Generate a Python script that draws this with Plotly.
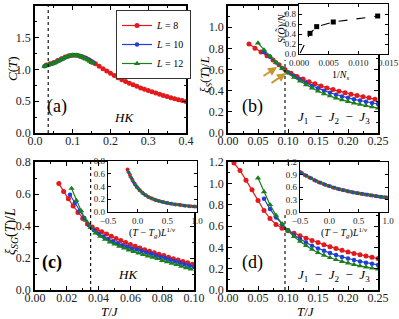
import plotly.graph_objects as go

W, H = 399, 319
SERIF = "Liberation Serif"
RED, BLUE, GREEN = "#e31a1c", "#1f3fd8", "#1b7f1b"

# ---------------- Data ----------------
# (a) specific heat, HK model
a_T8 = [0.03, 0.04, 0.05, 0.06, 0.07, 0.08, 0.09, 0.10, 0.11, 0.12, 0.13, 0.14, 0.15,
        0.16, 0.17, 0.18, 0.19, 0.20, 0.21, 0.22, 0.23, 0.24, 0.25, 0.26, 0.27, 0.28,
        0.29, 0.30, 0.31, 0.32, 0.33, 0.34, 0.35, 0.36, 0.37, 0.38, 0.39, 0.40]
a_C8 = [1.07, 1.09, 1.11, 1.14, 1.17, 1.195, 1.215, 1.225, 1.225, 1.21, 1.19, 1.16, 1.125,
        1.09, 1.05, 1.01, 0.975, 0.94, 0.905, 0.87, 0.84, 0.81, 0.785, 0.76, 0.735, 0.71,
        0.69, 0.67, 0.65, 0.63, 0.61, 0.592, 0.574, 0.557, 0.541, 0.525, 0.51, 0.496]
a_T10 = [0.025, 0.035, 0.045, 0.055, 0.065, 0.075, 0.085, 0.095, 0.105, 0.115, 0.125,
         0.135, 0.145, 0.155]
a_C10 = [1.05, 1.07, 1.09, 1.115, 1.145, 1.175, 1.20, 1.22, 1.225, 1.22, 1.205, 1.18, 1.15, 1.11]
a_T12 = [0.025, 0.030, 0.035, 0.040, 0.045, 0.050, 0.055, 0.060, 0.065, 0.070, 0.075,
         0.080, 0.085, 0.090, 0.095, 0.100, 0.105, 0.110, 0.115, 0.120, 0.125, 0.130,
         0.135, 0.140, 0.145, 0.150, 0.155]
a_C12 = [1.05, 1.06, 1.07, 1.08, 1.09, 1.10, 1.115, 1.13, 1.145, 1.16, 1.175, 1.19, 1.20,
         1.21, 1.22, 1.225, 1.225, 1.22, 1.215, 1.205, 1.19, 1.18, 1.165, 1.15, 1.13, 1.11, 1.095]

# (b) spin correlation length, J1-J2-J3
b_T8 = [0.035, 0.045, 0.055, 0.065, 0.075, 0.085, 0.095, 0.105, 0.115, 0.125, 0.135,
        0.145, 0.155, 0.165, 0.175, 0.185, 0.195, 0.205, 0.215, 0.225, 0.235, 0.245]
b_X8 = [0.84, 0.80, 0.765, 0.73, 0.69, 0.645, 0.60, 0.565, 0.535, 0.51, 0.485, 0.465,
        0.445, 0.425, 0.41, 0.395, 0.38, 0.367, 0.355, 0.343, 0.332, 0.32]
b_T10 = [0.06, 0.07, 0.08, 0.09, 0.10, 0.11, 0.12, 0.13, 0.14, 0.15, 0.16, 0.17, 0.18,
         0.19, 0.20, 0.21, 0.22, 0.23, 0.24, 0.25]
b_X10 = [0.765, 0.72, 0.665, 0.615, 0.575, 0.54, 0.505, 0.475, 0.447, 0.422, 0.40, 0.38,
         0.362, 0.346, 0.332, 0.318, 0.306, 0.295, 0.284, 0.274]
b_T12 = [0.05, 0.06, 0.07, 0.08, 0.09, 0.10, 0.11, 0.12, 0.13, 0.14, 0.15, 0.16, 0.17,
         0.18, 0.19, 0.20, 0.21, 0.22, 0.23, 0.24, 0.25]
b_X12 = [0.85, 0.785, 0.725, 0.665, 0.61, 0.565, 0.525, 0.49, 0.455, 0.425, 0.395, 0.37,
         0.35, 0.33, 0.312, 0.297, 0.283, 0.27, 0.258, 0.246, 0.235]
# (b) inset: structure factor vs 1/Ns
bi_invN = [0.00185, 0.00298, 0.00578, 0.01326]
bi_S = [0.413, 0.547, 0.64, 0.76]
bi_fit_x = [0.0002, 0.00185, 0.00298, 0.00578, 0.01326]
bi_fit_y = [0.02, 0.413, 0.547, 0.64, 0.76]

# (c) spin-glass correlation length, HK
c_T8 = [0.015, 0.018, 0.021, 0.024, 0.027, 0.030, 0.033, 0.036, 0.039, 0.042, 0.045,
        0.048, 0.051, 0.054, 0.057, 0.060, 0.063, 0.066, 0.069, 0.072, 0.075, 0.078,
        0.081, 0.084, 0.087, 0.090, 0.093, 0.096, 0.099]
c_X8 = [0.665, 0.615, 0.57, 0.525, 0.485, 0.447, 0.412, 0.393, 0.378, 0.364, 0.35, 0.336,
        0.322, 0.309, 0.297, 0.285, 0.273, 0.262, 0.252, 0.242, 0.233, 0.224, 0.215,
        0.205, 0.196, 0.187, 0.178, 0.17, 0.161]
c_T10 = [0.022, 0.025, 0.028, 0.031, 0.034, 0.037, 0.040, 0.043, 0.046, 0.049, 0.052,
         0.055, 0.058, 0.061, 0.064, 0.067, 0.070, 0.073, 0.076, 0.079, 0.082, 0.085,
         0.088, 0.091, 0.094, 0.097, 0.100]
c_X10 = [0.595, 0.545, 0.495, 0.45, 0.405, 0.375, 0.352, 0.334, 0.318, 0.304, 0.292, 0.28,
         0.27, 0.26, 0.253, 0.244, 0.235, 0.226, 0.216, 0.207, 0.198, 0.189, 0.179, 0.17,
         0.161, 0.152, 0.143]
c_T12 = [0.023, 0.026, 0.029, 0.032, 0.035, 0.038, 0.041, 0.044, 0.047, 0.050, 0.053,
         0.056, 0.059, 0.062, 0.065, 0.068, 0.071, 0.074, 0.077, 0.080, 0.083, 0.086,
         0.089, 0.092, 0.095, 0.098]
c_X12 = [0.635, 0.56, 0.495, 0.435, 0.39, 0.355, 0.335, 0.316, 0.3, 0.286, 0.273, 0.261,
         0.25, 0.24, 0.23, 0.221, 0.212, 0.204, 0.196, 0.184, 0.176, 0.167, 0.158, 0.148,
         0.139, 0.13]
# (c) inset: scaling collapse
ci_x8 = [-0.17, -0.13, -0.09, -0.05, -0.01, 0.03, 0.08, 0.13, 0.18, 0.24, 0.30, 0.36,
         0.43, 0.50, 0.57, 0.64, 0.72, 0.80, 0.88, 0.96]
ci_y8 = [0.665, 0.58, 0.505, 0.445, 0.39, 0.345, 0.30, 0.265, 0.237, 0.212, 0.19, 0.172,
         0.155, 0.141, 0.128, 0.118, 0.108, 0.099, 0.092, 0.085]
ci_x10 = [-0.15, -0.11, -0.07, -0.03, 0.01, 0.05, 0.10, 0.15, 0.21, 0.27, 0.33, 0.40,
          0.47, 0.54, 0.61, 0.69, 0.77, 0.85, 0.93, 1.0]
ci_y10 = [0.62, 0.54, 0.472, 0.415, 0.368, 0.328, 0.288, 0.255, 0.225, 0.2, 0.18, 0.162,
          0.147, 0.134, 0.123, 0.112, 0.103, 0.095, 0.088, 0.082]
ci_x12 = [-0.16, -0.12, -0.08, -0.04, 0.0, 0.04, 0.09, 0.14, 0.20, 0.26, 0.32, 0.38,
          0.45, 0.52, 0.59, 0.67, 0.75, 0.83, 0.91, 0.99]
ci_y12 = [0.635, 0.552, 0.485, 0.428, 0.378, 0.335, 0.293, 0.26, 0.228, 0.203, 0.183,
          0.166, 0.15, 0.136, 0.124, 0.113, 0.104, 0.096, 0.089, 0.083]

# (d) spin-glass correlation length, J1-J2-J3
d_T8 = [0.01, 0.02, 0.03, 0.04, 0.05, 0.06, 0.07, 0.08, 0.09, 0.10, 0.11, 0.12, 0.13, 0.14,
        0.15, 0.16, 0.17, 0.18, 0.19, 0.20, 0.21, 0.22, 0.23, 0.24, 0.25]
d_X8 = [1.19, 1.12, 1.03, 0.94, 0.84, 0.745, 0.67, 0.615, 0.58, 0.555, 0.532, 0.508, 0.486,
        0.465, 0.445, 0.425, 0.405, 0.388, 0.372, 0.357, 0.343, 0.33, 0.318, 0.306, 0.295]
d_T10 = [0.06, 0.07, 0.08, 0.09, 0.10, 0.11, 0.12, 0.13, 0.14, 0.15, 0.16, 0.17, 0.18,
         0.19, 0.20, 0.21, 0.22, 0.23, 0.24, 0.25]
d_X10 = [0.855, 0.76, 0.68, 0.615, 0.56, 0.515, 0.478, 0.445, 0.415, 0.39, 0.367, 0.346,
         0.327, 0.31, 0.295, 0.281, 0.268, 0.256, 0.245, 0.235]
d_T12 = [0.05, 0.06, 0.07, 0.08, 0.09, 0.10, 0.11, 0.12, 0.13, 0.14, 0.15, 0.16, 0.17,
         0.18, 0.19, 0.20, 0.21, 0.22, 0.23, 0.24, 0.25]
d_X12 = [1.05, 0.92, 0.80, 0.70, 0.62, 0.555, 0.50, 0.455, 0.415, 0.38, 0.35, 0.325, 0.303,
         0.284, 0.267, 0.252, 0.238, 0.226, 0.215, 0.205, 0.196]
# (d) inset: scaling collapse
di_x8 = [-0.50, -0.42, -0.34, -0.26, -0.18, -0.10, -0.02, 0.06, 0.14, 0.22, 0.30, 0.38,
         0.46, 0.54, 0.62, 0.70, 0.78, 0.86, 0.94, 1.0]
di_y8 = [0.96, 0.89, 0.83, 0.77, 0.715, 0.67, 0.628, 0.59, 0.558, 0.53, 0.503, 0.478,
         0.457, 0.437, 0.418, 0.40, 0.383, 0.367, 0.352, 0.342]
di_x10 = [-0.47, -0.39, -0.31, -0.23, -0.15, -0.07, 0.01, 0.09, 0.17, 0.25, 0.33, 0.41,
          0.49, 0.57, 0.65, 0.73, 0.81, 0.89, 0.97]
di_y10 = [0.935, 0.87, 0.81, 0.75, 0.70, 0.655, 0.616, 0.58, 0.548, 0.52, 0.494, 0.47,
          0.45, 0.43, 0.412, 0.394, 0.378, 0.362, 0.347]
di_x12 = [-0.45, -0.37, -0.29, -0.21, -0.13, -0.05, 0.03, 0.11, 0.19, 0.27, 0.35, 0.43,
          0.51, 0.59, 0.67, 0.75, 0.83, 0.91, 0.99]
di_y12 = [0.92, 0.855, 0.795, 0.74, 0.69, 0.645, 0.606, 0.572, 0.54, 0.512, 0.487, 0.464,
          0.444, 0.425, 0.407, 0.39, 0.374, 0.358, 0.344]

# critical temperatures (dotted guides)
tg_hk = [0.035, 0.035]
tg_a_y = [0.0, 2.0]
tg_c_y = [0.0, 0.8]
tg_j = [0.095, 0.095]
tg_b_y = [0.0, 0.69]
tg_d_y = [0.0, 0.72]

legend_names = ["<i>L</i> = 8", "<i>L</i> = 10", "<i>L</i> = 12"]

# ---------------- Figure ----------------
def dx(p0, p1):
    return [p0 / W, p1 / W]

def dy(p0, p1):
    return [1 - p1 / H, 1 - p0 / H]

fig = go.Figure()

def series(x, y, color, sym, size, xa, ya, name=None, show=False, line=True):
    fig.add_trace(go.Scatter(
        x=x, y=y, xaxis=xa, yaxis=ya, name=name, showlegend=show,
        mode="lines+markers" if line else "markers",
        line=dict(color=color, width=1.2),
        marker=dict(symbol=sym, size=size, color=color, line=dict(width=0))))

def main_three(T8, X8, T10, X10, T12, X12, xa, ya, show=False):
    series(T8, X8, RED, "circle", 5, xa, ya, legend_names[0], show)
    series(T10, X10, BLUE, "circle", 4.5, xa, ya, legend_names[1], show)
    series(T12, X12, GREEN, "triangle-up", 5.5, xa, ya, legend_names[2], show)

def dotted(x, y, xa, ya):
    fig.add_trace(go.Scatter(x=x, y=y, xaxis=xa, yaxis=ya, mode="lines", showlegend=False,
                             line=dict(color="black", width=1.1, dash="dot")))

main_three(a_T8, a_C8, a_T10, a_C10, a_T12, a_C12, "x", "y", show=True)
dotted(tg_hk, tg_a_y, "x", "y")
main_three(b_T8, b_X8, b_T10, b_X10, b_T12, b_X12, "x2", "y2")
dotted(tg_j, tg_b_y, "x2", "y2")
main_three(c_T8, c_X8, c_T10, c_X10, c_T12, c_X12, "x3", "y3")
dotted(tg_hk, tg_c_y, "x3", "y3")
main_three(d_T8, d_X8, d_T10, d_X10, d_T12, d_X12, "x4", "y4")
dotted(tg_j, tg_d_y, "x4", "y4")

# insets
fig.add_trace(go.Scatter(x=bi_fit_x, y=bi_fit_y, xaxis="x5", yaxis="y5", mode="lines",
                         showlegend=False, line=dict(color="black", width=1.1, dash="dash")))
fig.add_trace(go.Scatter(x=bi_invN, y=bi_S, xaxis="x5", yaxis="y5", mode="markers",
                         showlegend=False, marker=dict(symbol="square", size=5, color="black")))
series(ci_x8, ci_y8, RED, "circle", 4, "x6", "y6", line=False)
series(ci_x10, ci_y10, BLUE, "circle", 3.5, "x6", "y6", line=False)
series(ci_x12, ci_y12, GREEN, "triangle-up", 4, "x6", "y6", line=False)
series(di_x8, di_y8, RED, "circle", 4, "x7", "y7", line=False)
series(di_x10, di_y10, BLUE, "circle", 4, "x7", "y7", line=False)
series(di_x12, di_y12, GREEN, "triangle-up", 4, "x7", "y7", line=False)

def axis(domain, rng, dtick, fmt, anchor, lw=1.5, ticklen=4, fs=12, minor=None, standoff=0):
    d = dict(domain=domain, range=rng, dtick=dtick, tick0=0, tickformat=fmt, anchor=anchor,
             showline=True, linecolor="black", linewidth=lw, mirror="ticks",
             ticks="inside", ticklen=ticklen, tickwidth=1, tickcolor="black",
             showgrid=False, zeroline=False, automargin=False,
             ticklabelstandoff=standoff,
             tickfont=dict(family=SERIF, size=fs, color="#222"))
    if minor:
        d["minor"] = dict(dtick=minor, ticks="inside", ticklen=ticklen * 0.55,
                          tickcolor="black", showgrid=False)
    return d

eps = 1e-9
fig.update_layout(
    template="none",
    width=W, height=H, autosize=False,
    margin=dict(l=0, r=0, t=0, b=0, pad=0),
    paper_bgcolor="white", plot_bgcolor="white",
    xaxis=axis(dx(35, 186), [-eps, 0.4 + eps], 0.1, ".1f", "y", minor=0.05, standoff=-4),
    yaxis=axis(dy(6, 133), [-eps, 2.0 + eps], 0.5, ".1f", "x", minor=0.25),
    xaxis2=axis(dx(228, 378), [-eps, 0.25 + eps], 0.05, ".2f", "y2", minor=0.025, standoff=-4),
    yaxis2=axis(dy(6, 133), [-eps, 1.2 + eps], 0.2, ".1f", "x2", minor=0.1),
    xaxis3=axis(dx(35, 194), [-eps, 0.10 + eps], 0.02, ".2f", "y3", minor=0.01, standoff=-4),
    yaxis3=axis(dy(162, 290), [-eps, 0.8 + eps], 0.2, ".1f", "x3", minor=0.1),
    xaxis4=axis(dx(228, 378), [-eps, 0.25 + eps], 0.05, ".2f", "y4", minor=0.025, standoff=-4),
    yaxis4=axis(dy(162, 290), [-eps, 1.2 + eps], 0.2, ".1f", "x4", minor=0.1),
    xaxis5=axis(dx(299, 388), [-eps, 0.015 + eps], 0.005, ".3f", "y5", lw=1.2, ticklen=3, fs=9),
    yaxis5=axis(dy(4, 54), [-eps, 1.0 + eps], 0.2, ".1f", "x5", lw=1.2, ticklen=3, fs=9),
    xaxis6=axis(dx(108, 197), [-0.5 - eps, 1.0 + eps], 0.5, ".1f", "y6", lw=1.2, ticklen=3, fs=9),
    yaxis6=axis(dy(161, 212), [-eps, 0.8 + eps], 0.2, ".1f", "x6", lw=1.2, ticklen=3, fs=9),
    xaxis7=axis(dx(300, 388), [-0.5 - eps, 1.0 + eps], 0.5, ".1f", "y7", lw=1.2, ticklen=3, fs=9),
    yaxis7=axis(dy(162, 212), [-eps, 1.2 + eps], 0.3, ".1f", "x7", lw=1.2, ticklen=3, fs=9),
    legend=dict(x=116 / W, y=1 - 10 / H, xanchor="left", yanchor="top",
                bgcolor="white", bordercolor="#333", borderwidth=1,
                font=dict(family=SERIF, size=10, color="black"),
                itemwidth=30, tracegroupgap=0),
)

def ann(text, x, y, size, angle=0, bold=False):
    if bold:
        text = "<b>" + text + "</b>"
    fig.add_annotation(text=text, x=x / W, y=1 - y / H, xref="paper", yref="paper",
                       showarrow=False, textangle=angle, xanchor="center", yanchor="middle",
                       font=dict(family=SERIF, size=size, color="black"))

J123 = "<i>J</i><sub>1</sub>\u2002\u2212\u2002<i>J</i><sub>2</sub>\u2002\u2212\u2002<i>J</i><sub>3</sub>"
ann("<i>C</i>(<i>T</i>)", 12, 69, 13, angle=-90)
ann("<i>ξ</i><sub><i>S</i></sub>(<i>T</i>)/<i>L</i>", 205, 75, 13, angle=-90)
ann("<i>ξ</i><sub><i>SG</i></sub>(<i>T</i>)/<i>L</i>", 11, 232, 14, angle=-90)
ann("<i>T</i>/<i>J</i>", 110, 311, 13)
ann("<i>T</i>/<i>J</i>", 306, 311, 13)
ann("(a)", 57, 107, 18)
ann("(b)", 252, 107, 18)
ann("(c)", 52, 262, 18, bold=True)
ann("(d)", 252, 262, 18)
ann("<i>HK</i>", 124, 118, 13)
ann("<i>HK</i>", 128, 274, 13)
ann(J123, 334, 118, 13)
ann(J123, 334, 275, 13)
ann("<i>S</i>(<i>Q̃</i>)/<i>N</i><sub><i>s</i></sub>", 282, 28, 10, angle=-90)
ann("1/<i>N</i><sub><i>s</i></sub>", 340, 75, 10)
ann("(<i>T</i> \u2212 <i>T</i><sub><i>g</i></sub>)<i>L</i><sup>1/<i>ν</i></sup>", 152, 233, 10)
ann("(<i>T</i> \u2212 <i>T</i><sub><i>g</i></sub>)<i>L</i><sup>1/<i>ν</i></sup>", 344, 233, 10)

# arrows pointing at the crossing in (b)
for (x0, y0, x1, y1) in [(0.0567, 0.529, 0.0817, 0.624), (0.070, 0.463, 0.0967, 0.567)]:
    fig.add_annotation(x=x1, y=y1, ax=x0, ay=y0, xref="x2", yref="y2", axref="x2", ayref="y2",
                       showarrow=True, arrowhead=2, arrowsize=0.9, arrowwidth=2,
                       arrowcolor="#c8962e", text="")

# the page's default 8px body margin would shift the fixed-size figure
fig.write_html("out.html", config={"displayModeBar": False},
               post_script="document.body.style.margin='0';document.body.style.overflow='hidden';")
